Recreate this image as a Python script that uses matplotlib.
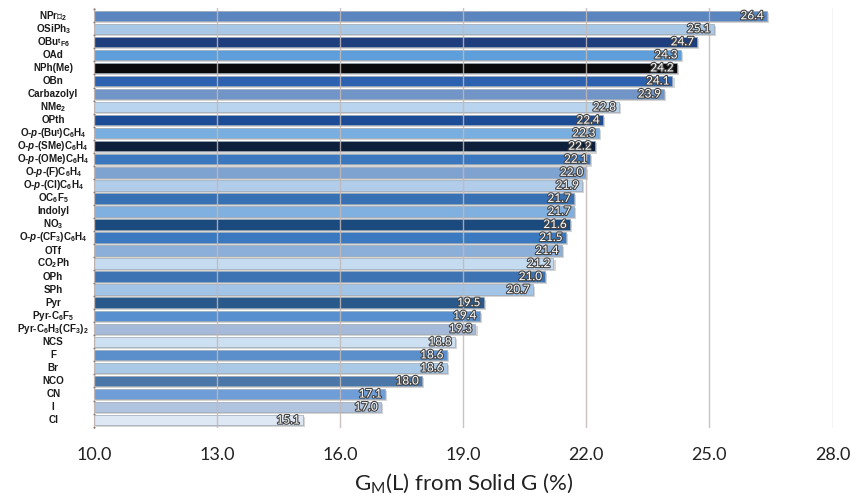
import matplotlib
matplotlib.use("Agg")
import matplotlib.pyplot as plt
import matplotlib.patheffects as pe
import numpy as np

plt.rcParams['mathtext.fontset'] = 'custom'
plt.rcParams['mathtext.rm'] = 'Liberation Sans:bold'
plt.rcParams['mathtext.it'] = 'Liberation Sans:bold:italic'
plt.rcParams['mathtext.bf'] = 'Liberation Sans:bold'
plt.rcParams['mathtext.sf'] = 'Lato'
plt.rcParams['mathtext.fallback'] = 'stixsans'

# ligands, top to bottom
ligands = [
    r"NPr$\mathrm{ⁱ}_{2}$", r"OSiPh$_{3}$", r"OBu$\mathrm{ᵗ}_{\mathrm{F6}}$", "OAd", "NPh(Me)", "OBn",
    "Carbazolyl", r"NMe$_{2}$", "OPth", r"O-$p$-(Bu$\mathrm{ᵗ}$)C$_{6}$H$_{4}$",
    r"O-$p$-(SMe)C$_{6}$H$_{4}$", r"O-$p$-(OMe)C$_{6}$H$_{4}$", r"O-$p$-(F)C$_{6}$H$_{4}$",
    r"O-$p$-(Cl)C$_{6}$H$_{4}$", r"OC$_{6}$F$_{5}$", "Indolyl", r"NO$_{3}$",
    r"O-$p$-(CF$_{3}$)C$_{6}$H$_{4}$", "OTf", r"CO$_{2}$Ph", "OPh", "SPh", "Pyr",
    r"Pyr-C$_{6}$F$_{5}$", r"Pyr-C$_{6}$H$_{3}$(CF$_{3}$)$_{2}$", "NCS", "F", "Br",
    "NCO", "CN", "I", "Cl",
]
gm_values = [26.4, 25.1, 24.7, 24.3, 24.2, 24.1, 23.9, 22.8, 22.4, 22.3, 22.2, 22.1,
             22.0, 21.9, 21.7, 21.7, 21.6, 21.5, 21.4, 21.2, 21.0, 20.7, 19.5, 19.4,
             19.3, 18.8, 18.6, 18.6, 18.0, 17.1, 17.0, 15.1]
bar_colors = ["#5a85bf", "#a9c8e6", "#1f3e7e", "#5e9fdb", "#0a0a0c", "#2b61ae",
              "#7095c6", "#b9d4ee", "#1d4c96", "#79afe0", "#0d1f3a", "#3a77bf",
              "#7fa3d1", "#b1cdea", "#3770b3", "#80b0df", "#1b4a7f", "#3a79bf",
              "#8cafd9", "#c4dbf0", "#3d73b3", "#a1c4e7", "#29598a", "#5890cf",
              "#a5b9d8", "#cde0f2", "#5a8fcb", "#a9c9e7", "#4a77a7", "#6e9dd7",
              "#b0c4df", "#dde8f4"]
x_ticks = [10.0, 13.0, 16.0, 19.0, 22.0, 25.0, 28.0]

fig = plt.figure(figsize=(8.53, 4.97), dpi=100)
ax = fig.add_axes([0.110, 0.139, 0.866, 0.845])

y = np.arange(len(ligands))
left = 10.0
bars = ax.barh(y, np.array(gm_values) - left, left=left, height=0.8,
               color=bar_colors, edgecolor="#9aa6b4", linewidth=0.5, zorder=2)
for b in bars:
    b.set_path_effects([pe.SimplePatchShadow(offset=(1.5, -1.5), shadow_rgbFace="#888888", alpha=0.35),
                        pe.Normal()])

# value labels at the end of each bar
for yi, v in zip(y, gm_values):
    ax.text(v - 0.08, yi, f"{v:.1f}", ha="right", va="center", fontsize=8.5,
            family="Lato", color="white", zorder=4,
            path_effects=[pe.withStroke(linewidth=1.6, foreground="#444444")])

ax.set_xlim(10.0, 28.0)
ax.set_ylim(len(ligands) - 0.4, -0.6)
ax.set_xticks(x_ticks)
ax.set_xticklabels([f"{t:.1f}" for t in x_ticks], family="Lato", fontsize=13, color="#222222")
ax.tick_params(axis="x", length=0, pad=14)
ax.grid(axis="x", color="#c4b8b5", linewidth=1.0, zorder=3, alpha=0.85)
ax.set_axisbelow(False)

ax.set_yticks(y)
ax.set_yticklabels([])
ax.tick_params(axis="y", length=0)
ax.set_yticks(np.arange(-0.5, len(ligands), 1), minor=True)
ax.tick_params(axis="y", which="minor", length=2, width=1, color="#8a7a70", direction="inout")
for yi, lab in zip(y, ligands):
    ax.text(-0.055, yi, lab, transform=ax.get_yaxis_transform(), ha="center", va="center",
            fontsize=7.1, family="Liberation Sans", fontweight="bold", color="#1a1a1a")

for s in ["top", "right", "bottom"]:
    ax.spines[s].set_visible(False)
ax.spines["left"].set_color("#a89a90")
ax.spines["left"].set_linestyle((0, (1, 2)))
ax.spines["left"].set_linewidth(0.8)

ax.set_xlabel(r"G$_{\mathsf{M}}$(L) from Solid G (%)", family="Lato", fontsize=16,
              color="#222222", labelpad=6)

fig.savefig("out.png", dpi=100)
